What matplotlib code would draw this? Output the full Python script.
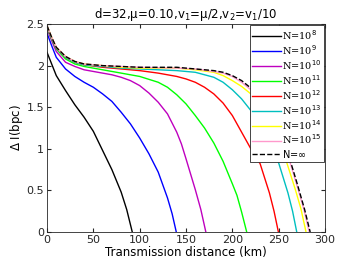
import matplotlib
matplotlib.use("Agg")
import matplotlib.pyplot as plt

# transmission distance (km) / delta I (bpc)
d_1e8 = [0, 5, 10, 20, 30, 40, 50, 60, 70, 80, 86, 92]
i_1e8 = [2.16, 2.02, 1.88, 1.70, 1.53, 1.38, 1.21, 0.98, 0.75, 0.48, 0.27, 0.0]

d_1e9 = [0, 5, 10, 20, 30, 40, 50, 60, 70, 80, 90, 100, 110, 120, 130, 135, 139.5]
i_1e9 = [2.39, 2.24, 2.10, 1.96, 1.87, 1.80, 1.74, 1.66, 1.57, 1.44, 1.30, 1.13,
         0.94, 0.72, 0.41, 0.22, 0.0]

d_1e10 = [0, 5, 10, 20, 30, 40, 50, 60, 70, 80, 90, 100, 110, 120, 130, 140, 145,
          150, 160, 166, 171.4]
i_1e10 = [2.44, 2.30, 2.17, 2.04, 1.99, 1.95, 1.93, 1.91, 1.89, 1.86, 1.82, 1.76,
          1.67, 1.56, 1.42, 1.20, 1.06, 0.88, 0.51, 0.27, 0.0]

d_1e11 = [0, 5, 10, 20, 30, 40, 60, 80, 100, 120, 130, 140, 150, 160, 170, 180,
          190, 200, 205, 210, 215.5]
i_1e11 = [2.46, 2.32, 2.20, 2.08, 2.02, 1.99, 1.95, 1.91, 1.87, 1.80, 1.74, 1.65,
          1.54, 1.40, 1.25, 1.07, 0.85, 0.58, 0.44, 0.24, 0.0]

d_1e12 = [0, 5, 10, 20, 30, 40, 60, 80, 100, 120, 140, 150, 160, 170, 180, 190,
          200, 210, 220, 230, 240, 245, 249.7]
i_1e12 = [2.47, 2.33, 2.21, 2.10, 2.04, 2.01, 1.98, 1.96, 1.94, 1.91, 1.87, 1.84,
          1.80, 1.74, 1.66, 1.55, 1.40, 1.20, 1.00, 0.82, 0.47, 0.25, 0.0]

d_1e13 = [0, 5, 10, 20, 30, 40, 60, 80, 100, 140, 160, 180, 190, 200, 210, 220,
          230, 240, 250, 260, 265, 269.5]
i_1e13 = [2.47, 2.33, 2.21, 2.10, 2.04, 2.01, 1.99, 1.97, 1.96, 1.94, 1.92, 1.86,
          1.80, 1.71, 1.60, 1.46, 1.30, 1.09, 0.83, 0.47, 0.25, 0.0]

d_1e14 = [0, 5, 10, 20, 30, 40, 60, 80, 100, 140, 160, 180, 190, 200, 210, 220,
          230, 240, 250, 258, 268, 274, 279.5]
i_1e14 = [2.48, 2.34, 2.22, 2.11, 2.05, 2.02, 2.00, 1.98, 1.97, 1.97, 1.95, 1.92,
          1.88, 1.82, 1.75, 1.66, 1.53, 1.36, 1.12, 0.86, 0.51, 0.28, 0.0]

d_1e15 = [0, 5, 10, 20, 30, 40, 60, 80, 100, 140, 160, 180, 190, 200, 210, 220,
          230, 240, 250, 260, 270, 277, 283]
i_1e15 = [2.48, 2.34, 2.22, 2.11, 2.05, 2.02, 2.00, 1.99, 1.98, 1.97, 1.96, 1.93,
          1.91, 1.87, 1.80, 1.71, 1.59, 1.43, 1.21, 0.92, 0.55, 0.28, 0.0]

d_inf = [0, 5, 10, 20, 30, 40, 60, 80, 100, 140, 160, 180, 190, 200, 210, 220,
         230, 240, 250, 260, 270, 278, 284]
i_inf = [2.48, 2.34, 2.22, 2.11, 2.05, 2.02, 2.00, 1.99, 1.98, 1.98, 1.96, 1.94,
         1.92, 1.88, 1.82, 1.73, 1.61, 1.45, 1.24, 0.95, 0.58, 0.27, 0.0]

exps = ['8', '9', '10', '11', '12', '13', '14', '15']
series = [(d_1e8, i_1e8), (d_1e9, i_1e9), (d_1e10, i_1e10), (d_1e11, i_1e11),
          (d_1e12, i_1e12), (d_1e13, i_1e13), (d_1e14, i_1e14), (d_1e15, i_1e15)]
colors = ['k', 'b', 'm', '#00ff00', 'r', 'c', '#ffff00', '#ff99cc']

fig = plt.figure(figsize=(3.6, 2.7), dpi=100)
ax = fig.add_axes([0.1306, 0.1407, 0.7722, 0.7703])

for (d, v), c, e in zip(series, colors, exps):
    ax.plot(d, v, color=c, lw=1.0, label='N=10$^{' + e + '}$')
ax.plot(d_inf, i_inf, 'k--', lw=1.0, label='N=$\\infty$')

ax.set_xlim(0, 300)
ax.set_ylim(0, 2.5)
ax.set_xticks([0, 50, 100, 150, 200, 250, 300])
ax.set_yticks([0, 0.5, 1, 1.5, 2, 2.5])
ax.set_yticklabels(['0', '0.5', '1', '1.5', '2', '2.5'])
ax.tick_params(direction='in', length=3, labelsize=8, top=True, right=True,
               colors='#262626', pad=2)
for s in ax.spines.values():
    s.set_color('#262626')
    s.set_linewidth(0.6)

ax.set_xlabel('Transmission distance (km)', fontsize=8.5, labelpad=1)
ax.set_ylabel('$\\Delta$ I(bpc)', fontsize=8.5, labelpad=1)
ax.set_title('d=32,μ=0.10,v$_1$=μ/2,v$_2$=v$_1$/10', fontsize=8.5, pad=4)

leg = ax.legend(loc='upper right', prop={'family': 'DejaVu Serif', 'size': 7},
                handlelength=2.9, labelspacing=0.12, borderaxespad=0.15,
                borderpad=0.25, handletextpad=0.1, fancybox=False, framealpha=1)
leg.get_frame().set_edgecolor('#262626')
leg.get_frame().set_linewidth(0.6)
leg.get_texts()[-1].set_family('DejaVu Sans')

fig.savefig('out.png', dpi=100)
